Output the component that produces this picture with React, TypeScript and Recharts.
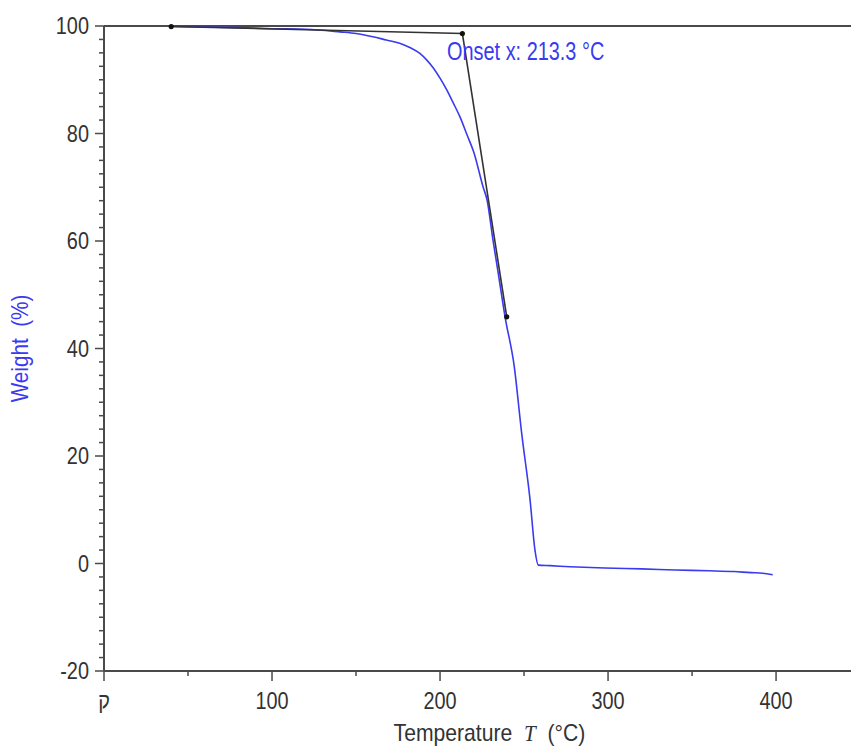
import React from "react";
import {
  LineChart,
  Line,
  XAxis,
  YAxis,
  ReferenceLine,
  ReferenceDot,
} from "recharts";

// Blue TGA curve: temperature (°C) and weight (%)
const temperature = [
  40, 60, 80, 100, 120, 140.5, 150, 160, 168, 176, 182, 188, 192, 196, 200,
  204, 208, 212, 216, 220, 225.6, 228, 231.5, 235, 238.7, 244.2, 248.6, 253.6,
  256.5, 258.5, 265.5, 277.4, 298, 320, 340, 360, 375, 385, 392, 398,
];
const weight = [
  99.9, 99.8, 99.7, 99.5, 99.4, 98.9, 98.6, 98.0, 97.4, 96.8, 96.0, 94.9,
  93.7, 92.2, 90.3, 88.1, 85.6, 83.0, 79.8, 76.6, 70.1, 67.6, 60.2, 53.3,
  45.9, 36.6, 24.2, 11.8, 2.5, -0.3, -0.4, -0.6, -0.85, -1.0, -1.2, -1.35,
  -1.5, -1.7, -1.8, -2.1,
];

// Black onset construction lines
const onsetT = [40, 213.3, 239.7];
const onsetW = [99.9, 98.6, 45.9];

// Axes
const xMajorTicks = [0, 100, 200, 300, 400];
const xTickLabels = ["ק", "100", "200", "300", "400"];
const xMinorStep = 50;
const xDomain = [0, 444.6];
const yMajorTicks = [-20, 0, 20, 40, 60, 80, 100];
const yMinorStep = 2.5;
const yDomain = [-20, 100];

const onsetText = "Onset x: 213.3 °C";
const onsetLabelAt = { t: 204.2, w: 93.6 };

const curveData = temperature.map((t, i) => ({ t, w: weight[i] }));
const onsetData = onsetT.map((t, i) => ({ t, w: onsetW[i] }));

const xTicks: number[] = [];
for (let v = xDomain[0]; v <= xDomain[1]; v += xMinorStep) xTicks.push(v);
const yTicks: number[] = [];
for (let v = yDomain[0]; v <= yDomain[1] + 1e-9; v += yMinorStep) yTicks.push(v);

const AXIS = "#4a4a4a";
const TEXT = "#333333";
const BLUE = "#3a3af0";
const FONT = "'Liberation Sans', Arial, sans-serif";

const NText = (props: any) => {
  const { x, y, sx = 1, rot = 0, children, ...rest } = props;
  return (
    <text
      x={0}
      y={0}
      transform={`translate(${x},${y}) rotate(${rot}) scale(${sx},1)`}
      fontFamily={FONT}
      {...rest}
    >
      {children}
    </text>
  );
};

const YTick = (props: any) => {
  const { x, y, payload } = props;
  const v = payload.value;
  const major = yMajorTicks.some((m) => Math.abs(m - v) < 1e-6);
  return (
    <g>
      <line x1={x - (major ? 9 : 5)} x2={x} y1={y} y2={y} stroke={AXIS} strokeWidth={1.5} />
      {major && (
        <NText x={x - 15} y={y} sx={0.84} textAnchor="end" dominantBaseline="central" fill={TEXT} fontSize={23.7}>
          {v}
        </NText>
      )}
    </g>
  );
};

const XTick = (props: any) => {
  const { x, y, payload } = props;
  const v = payload.value;
  const idx = xMajorTicks.findIndex((m) => Math.abs(m - v) < 1e-6);
  const major = idx >= 0;
  return (
    <g>
      <line x1={x} x2={x} y1={y} y2={y + (major ? 10 : 5)} stroke={AXIS} strokeWidth={1.5} />
      {major && (
        <NText x={x} y={y + 30} sx={0.84} textAnchor="middle" dominantBaseline="central" fill={TEXT} fontSize={23.7}>
          {xTickLabels[idx]}
        </NText>
      )}
    </g>
  );
};

const XLabel = (props: any) => {
  const { viewBox } = props;
  const cx = viewBox.x + viewBox.width / 2 + 12;
  return (
    <NText x={cx} y={viewBox.y + 62} sx={0.92} textAnchor="middle" dominantBaseline="central" fill={TEXT} fontSize={23}>
      Temperature{"\u00a0\u00a0"}
      <tspan fontFamily="'Liberation Serif', serif" fontStyle="italic">T</tspan>
      {"\u00a0\u00a0"}(°C)
    </NText>
  );
};

const YLabel = (props: any) => {
  const { viewBox } = props;
  const cx = viewBox.x + 20;
  const cy = viewBox.y + viewBox.height / 2;
  return (
    <NText x={cx} y={cy} rot={-90} sx={0.9} textAnchor="middle" dominantBaseline="central" fill={BLUE} fontSize={23}>
      Weight{"\u00a0\u00a0"}(%)
    </NText>
  );
};

const OnsetLabel = (props: any) => {
  const { viewBox } = props;
  return (
    <NText x={viewBox.x} y={viewBox.y} sx={0.78} fill={BLUE} fontSize={25.5}>
      {onsetText}
    </NText>
  );
};

export default function App() {
  return (
    <div style={{ position: "absolute", left: 0, top: 0, background: "#fff" }}>
      <LineChart width={851} height={747} margin={{ top: 26, right: 0, left: 0, bottom: 0 }}>
        <XAxis
          dataKey="t"
          type="number"
          domain={xDomain}
          ticks={xTicks}
          interval={0}
          tick={<XTick />}
          tickLine={false}
          tickSize={0}
          tickMargin={0}
          height={76}
          axisLine={{ stroke: AXIS, strokeWidth: 2 }}
          allowDataOverflow
          label={<XLabel />}
        />
        <YAxis
          dataKey="w"
          type="number"
          domain={yDomain}
          ticks={yTicks}
          interval={0}
          tick={<YTick />}
          tickLine={false}
          tickSize={0}
          tickMargin={0}
          width={104}
          axisLine={{ stroke: AXIS, strokeWidth: 2 }}
          label={<YLabel />}
        />
        <ReferenceLine y={100} stroke={AXIS} strokeWidth={2} />
        <Line data={curveData} dataKey="w" type="monotone" stroke={BLUE} strokeWidth={1.6} dot={false} isAnimationActive={false} />
        <Line data={onsetData} dataKey="w" stroke="#333" strokeWidth={1.6} dot={{ r: 1.8, fill: "#111", stroke: "#111" }} isAnimationActive={false} />
        <ReferenceDot x={onsetLabelAt.t} y={onsetLabelAt.w} r={0} stroke="none" fill="none" label={<OnsetLabel />} />
      </LineChart>
    </div>
  );
}
